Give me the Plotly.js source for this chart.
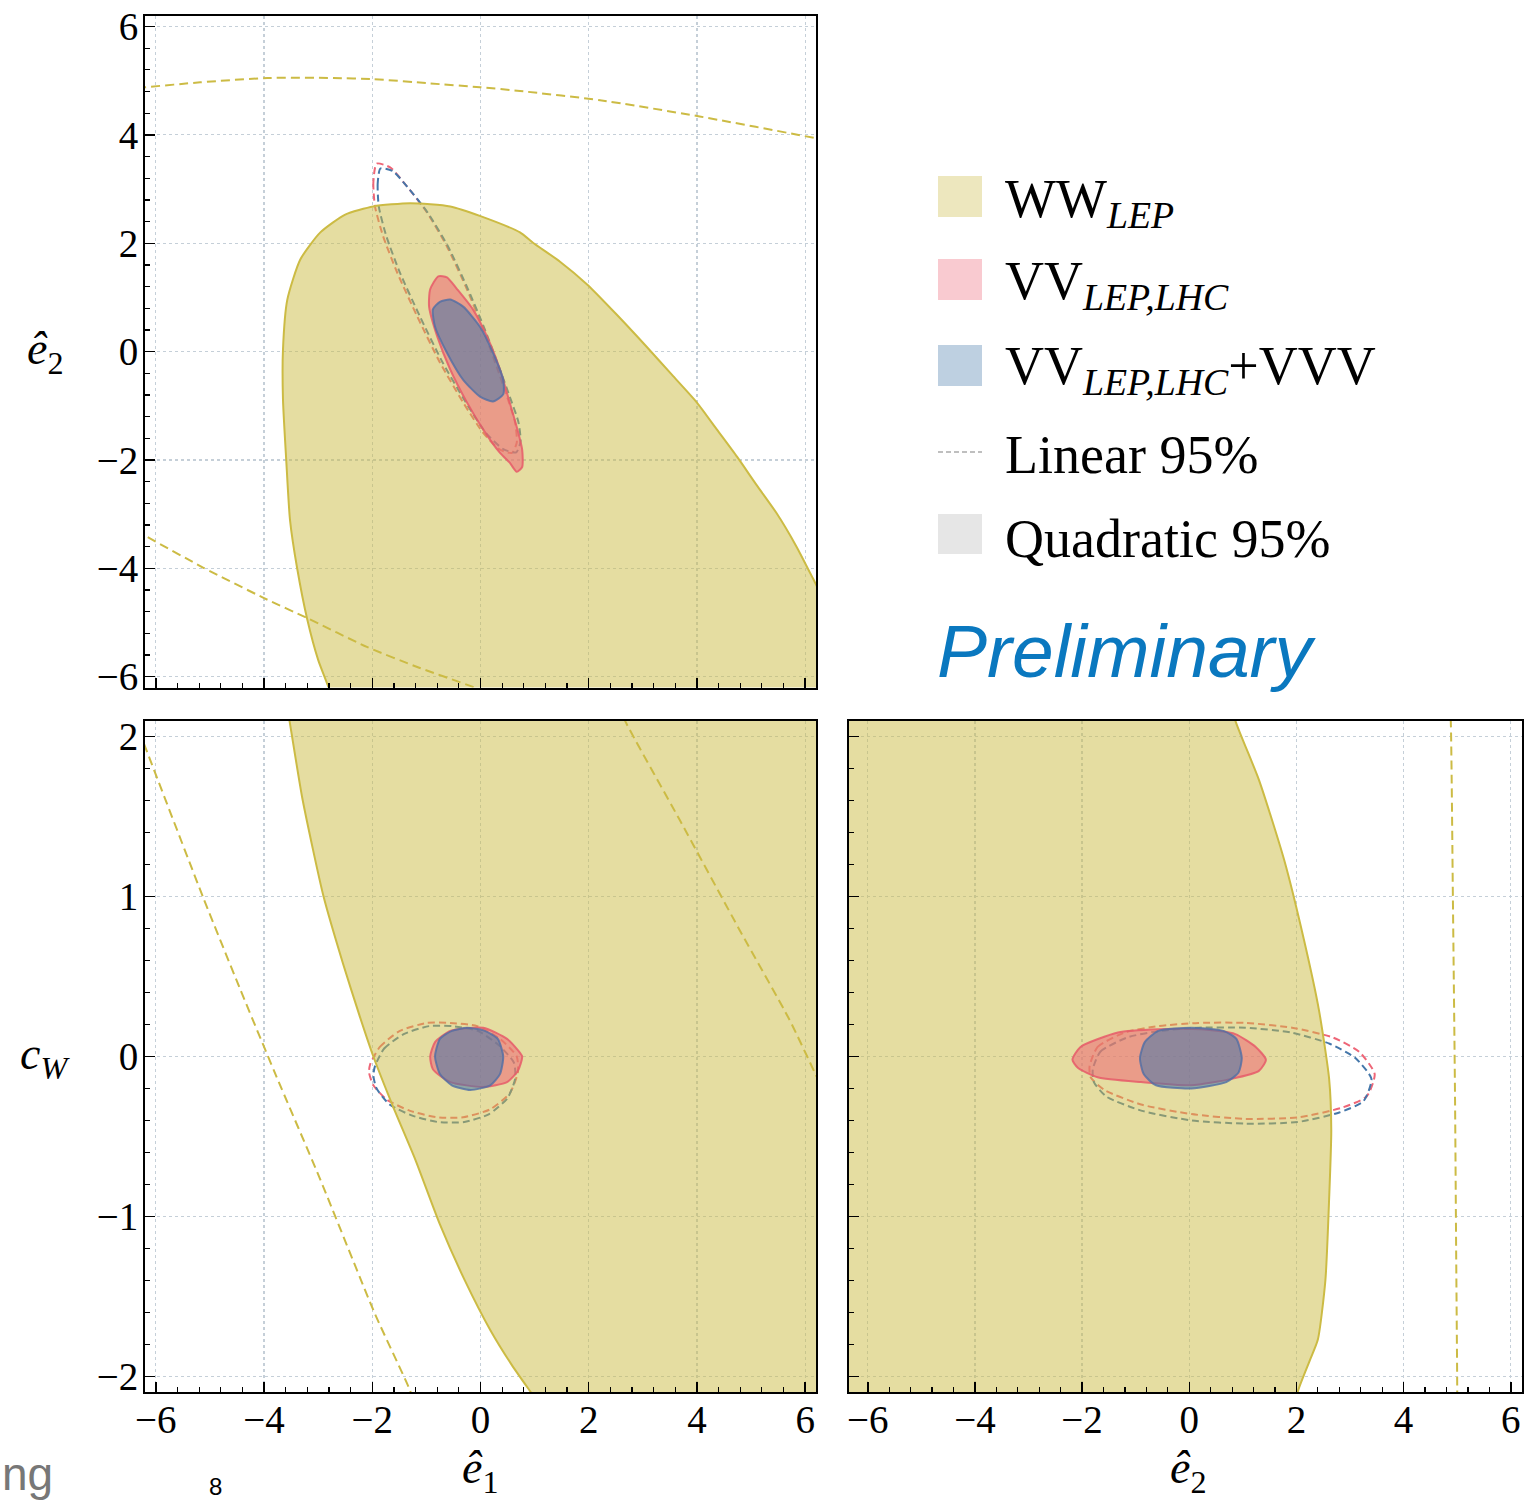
<!DOCTYPE html>
<html>
<head>
<meta charset="utf-8">
<script src="https://cdn.plot.ly/plotly-3.0.1.min.js"></script>
<style>html,body{margin:0;padding:0;background:#fff;}#plot{width:1534px;height:1502px;}</style>
</head>
<body>
<div id="plot"></div>
<script>
// ---------------- DATA ----------------
// Panel A: x = e1, y = e2
const A_WW_quad_x = [-2.55,-2.80,-3.00,-3.20,-3.39,-3.52,-3.59,-3.65,-3.65,-3.57,-3.33,-2.96,-2.50,-1.98,-1.30,-0.56,0.00,0.73,0.97,1.47,1.97,2.52,3.07,3.54,4.00,4.37,4.74,5.10,5.47,5.84,6.14,6.45,6.73,7.00,7.00,-2.55];
const A_WW_quad_y = [-7.00,-6.22,-5.69,-4.95,-3.99,-3.11,-2.00,-0.89,0.04,0.96,1.70,2.20,2.53,2.68,2.74,2.68,2.50,2.20,2.01,1.66,1.24,0.68,0.09,-0.43,-0.94,-1.44,-1.94,-2.46,-2.98,-3.60,-4.18,-4.80,-5.32,-5.85,-7.00,-7.00];
const A_WW_lin_x = [-6.60,-6.19,-5.18,-3.94,-2.72,-1.98,-0.93,-0.01,0.73,2.21,4.05,6.19,6.60, null, -6.60,-6.16,-5.12,-4.00,-3.20,-2.10,-1.12,-0.19,0.36,0.60];
const A_WW_lin_y = [4.84,4.88,4.97,5.05,5.05,5.03,4.95,4.88,4.81,4.64,4.34,3.94,3.86, null, -3.18,-3.42,-3.99,-4.55,-4.92,-5.45,-5.84,-6.17,-6.38,-6.50];
const A_VV_lin_x = [-1.92,-1.98,-1.95,-1.80,-1.54,-1.17,-0.75,-0.32,0.05,0.36,0.58,0.67,0.64,0.49,0.30,0.05,-0.25,-0.62,-0.99,-1.36,-1.67,-1.92];
const A_VV_lin_y = [3.47,3.12,2.68,2.13,1.46,0.65,-0.20,-0.94,-1.50,-1.81,-1.87,-1.68,-1.31,-0.83,-0.28,0.41,1.15,1.94,2.57,3.05,3.40,3.47];
const A_VVV_lin_x = [-1.85,-1.90,-1.88,-1.74,-1.49,-1.12,-0.70,-0.27,0.10,0.42,0.66,0.74,0.70,0.54,0.34,0.08,-0.23,-0.60,-0.98,-1.36,-1.62,-1.85];
const A_VVV_lin_y = [3.38,3.10,2.68,2.13,1.46,0.65,-0.20,-0.94,-1.50,-1.80,-1.86,-1.66,-1.30,-0.83,-0.28,0.41,1.15,1.94,2.57,3.05,3.33,3.38];
const A_VV_quad_x = [-0.78,-0.93,-0.95,-0.80,-0.56,-0.25,0.05,0.36,0.54,0.67,0.77,0.77,0.67,0.54,0.36,0.12,-0.14,-0.43,-0.62,-0.78];
const A_VV_quad_y = [1.39,1.15,0.83,0.28,-0.33,-0.94,-1.44,-1.87,-2.05,-2.22,-2.13,-1.81,-1.39,-0.94,-0.33,0.28,0.78,1.15,1.37,1.39];
const A_VVV_quad_x = [-0.75,-0.88,-0.84,-0.62,-0.32,-0.01,0.23,0.42,0.42,0.23,-0.01,-0.32,-0.56,-0.75];
const A_VVV_quad_y = [0.92,0.78,0.46,-0.02,-0.52,-0.83,-0.92,-0.79,-0.52,-0.02,0.46,0.83,0.96,0.92];

// Panel B: x = e1, y = cW
const B_WW_quad_x = [-3.60,-3.57,-3.53,-3.29,-2.90,-2.54,-2.24,-1.98,-1.62,-1.21,-0.75,-0.29,0.18,0.58,0.91,1.10,1.25,7.00,7.00,-3.60];
const B_WW_quad_y = [2.30,2.17,2.10,1.61,1.00,0.58,0.26,0.00,-0.31,-0.64,-1.05,-1.40,-1.71,-1.93,-2.09,-2.18,-2.30,-2.30,2.30,2.30];
const B_WW_lin_x = [-6.50,-6.19,-5.12,-4.44,-3.79,-2.96,-1.95,-1.30,-1.20, null, 2.55,2.67,3.68,4.79,5.71,6.19,6.50];
const B_WW_lin_y = [2.20,1.93,0.99,0.42,-0.11,-0.77,-1.61,-2.09,-2.20, null, 2.20,2.10,1.48,0.79,0.23,-0.11,-0.33];
const B_VV_lin_x = [-2.04,-1.86,-1.49,-0.99,-0.56,-0.06,0.36,0.67,0.69,0.54,0.18,-0.32,-0.80,-1.30,-1.73,-1.98,-2.06,-2.04];
const B_VV_lin_y = [-0.05,0.06,0.16,0.21,0.21,0.19,0.11,0.00,-0.10,-0.23,-0.33,-0.38,-0.38,-0.34,-0.27,-0.18,-0.10,-0.05];
const B_VVV_lin_x = [-1.95,-1.78,-1.42,-0.95,-0.52,-0.05,0.34,0.62,0.64,0.50,0.16,-0.30,-0.78,-1.26,-1.68,-1.92,-1.98,-1.95];
const B_VVV_lin_y = [-0.06,0.05,0.14,0.19,0.19,0.16,0.07,-0.04,-0.14,-0.26,-0.36,-0.41,-0.41,-0.37,-0.30,-0.20,-0.12,-0.06];
const B_VV_quad_x = [-0.93,-0.84,-0.56,0.05,0.49,0.69,0.77,0.69,0.49,0.05,-0.56,-0.88,-0.93];
const B_VV_quad_y = [0.00,0.09,0.16,0.18,0.11,0.04,0.00,-0.09,-0.16,-0.19,-0.16,-0.08,0.00];
const B_VVV_quad_x = [-0.84,-0.75,-0.53,-0.25,0.08,0.32,0.42,0.36,0.18,-0.19,-0.53,-0.75,-0.84];
const B_VVV_quad_y = [0.00,0.11,0.16,0.18,0.16,0.11,0.00,-0.11,-0.18,-0.21,-0.18,-0.11,0.00];

// Panel C: x = e2, y = cW
const C_WW_quad_x = [-7.00,0.72,0.86,1.30,1.77,2.14,2.42,2.61,2.65,2.61,2.54,2.40,2.25,2.03,1.90,-7.00,-7.00];
const C_WW_quad_y = [2.30,2.30,2.10,1.73,1.23,0.73,0.29,-0.14,-0.46,-0.89,-1.40,-1.77,-1.90,-2.09,-2.30,-2.30,2.30];
const C_WW_lin_x = [4.86,4.88,4.92,4.96,4.98,5.00,5.00];
const C_WW_lin_y = [2.20,2.10,0.98,-0.27,-1.20,-2.05,-2.20];
const C_VV_lin_x = [-1.86,-1.71,-1.20,-0.58,0.17,1.05,1.92,2.67,3.17,3.46,3.31,2.85,2.05,1.05,0.04,-0.90,-1.58,-1.84,-1.86];
const C_VV_lin_y = [-0.06,0.06,0.15,0.19,0.21,0.21,0.18,0.12,0.03,-0.11,-0.25,-0.32,-0.38,-0.39,-0.36,-0.30,-0.21,-0.13,-0.06];
const C_VVV_lin_x = [-1.80,-1.66,-1.15,-0.55,0.17,1.05,1.90,2.62,3.10,3.40,3.25,2.80,2.02,1.05,0.05,-0.88,-1.55,-1.78,-1.80];
const C_VVV_lin_y = [-0.08,0.03,0.12,0.16,0.18,0.18,0.15,0.08,-0.01,-0.14,-0.28,-0.35,-0.41,-0.42,-0.40,-0.34,-0.25,-0.16,-0.08];
const C_VV_quad_x = [-2.18,-2.03,-1.33,-0.58,0.23,0.86,1.24,1.43,1.30,0.79,0.04,-0.90,-1.71,-2.08,-2.18];
const C_VV_quad_y = [-0.02,0.06,0.15,0.17,0.17,0.14,0.06,-0.02,-0.09,-0.14,-0.18,-0.16,-0.13,-0.07,-0.02];
const C_VVV_quad_x = [-0.92,-0.83,-0.58,0.04,0.64,0.88,0.98,0.92,0.69,0.04,-0.62,-0.85,-0.92];
const C_VVV_quad_y = [-0.01,0.09,0.16,0.18,0.16,0.11,-0.01,-0.10,-0.16,-0.20,-0.18,-0.11,-0.01];

// Tick values and labels
const e_ticks = [-6,-4,-2,0,2,4,6];
const cw_ticks = [-2,-1,0,1,2];
const legend_labels = ["WW<sub><i>LEP</i></sub>", "VV<sub><i>LEP,LHC</i></sub>", "VV<sub><i>LEP,LHC</i></sub>+VVV", "Linear 95%", "Quadratic 95%"];

// ---------------- STYLE ----------------
const YEL = '#CCBB44', RED = '#EE6677', BLU = '#4477AA';
const W = 1534, H = 1502;
const px = v => v / W, py = v => 1 - v / H;

function dashLine(x, y, color, ax, dash) {
  return {type:'scatter', mode:'lines', x:x, y:y, xaxis:ax[0], yaxis:ax[1], showlegend:false, hoverinfo:'skip',
    line:{color:color, width:2, dash:dash || '7px,4px', shape:'spline', smoothing:0.6}};
}
function fillShape(x, y, fillcolor, linecolor, ax) {
  return {type:'scatter', mode:'lines', x:x, y:y, xaxis:ax[0], yaxis:ax[1], fill:'toself', fillcolor:fillcolor,
    showlegend:false, hoverinfo:'skip',
    line:{color:linecolor, width:2, shape:'spline', smoothing:0.6}};
}

function panel(ax, d) {
  return [
    dashLine(d.VVlx, d.VVly, RED, ax),
    dashLine(d.VVVlx, d.VVVly, BLU, ax),
    fillShape(d.WWx, d.WWy, 'rgba(204,187,68,0.5)', YEL, ax),
    dashLine(d.WWlx, d.WWly, YEL, ax, '9px,5px'),
    fillShape(d.VVx, d.VVy, 'rgba(238,102,119,0.55)', 'rgba(230,90,105,0.85)', ax),
    fillShape(d.VVVx, d.VVVy, 'rgba(68,119,170,0.55)', 'rgba(80,110,165,0.8)', ax)
  ];
}

const traces = [].concat(
  panel(['x','y'], {VVlx:A_VV_lin_x, VVly:A_VV_lin_y, VVVlx:A_VVV_lin_x, VVVly:A_VVV_lin_y, WWx:A_WW_quad_x, WWy:A_WW_quad_y,
    WWlx:A_WW_lin_x, WWly:A_WW_lin_y, VVx:A_VV_quad_x, VVy:A_VV_quad_y, VVVx:A_VVV_quad_x, VVVy:A_VVV_quad_y}),
  panel(['x2','y2'], {VVlx:B_VV_lin_x, VVly:B_VV_lin_y, VVVlx:B_VVV_lin_x, VVVly:B_VVV_lin_y, WWx:B_WW_quad_x, WWy:B_WW_quad_y,
    WWlx:B_WW_lin_x, WWly:B_WW_lin_y, VVx:B_VV_quad_x, VVy:B_VV_quad_y, VVVx:B_VVV_quad_x, VVVy:B_VVV_quad_y}),
  panel(['x3','y3'], {VVlx:C_VV_lin_x, VVly:C_VV_lin_y, VVVlx:C_VVV_lin_x, VVVly:C_VVV_lin_y, WWx:C_WW_quad_x, WWy:C_WW_quad_y,
    WWlx:C_WW_lin_x, WWly:C_WW_lin_y, VVx:C_VV_quad_x, VVy:C_VV_quad_y, VVVx:C_VVV_quad_x, VVVy:C_VVV_quad_y})
);

const SERIF = 'Liberation Serif, DejaVu Serif, serif';
function axis(extra) {
  return Object.assign({
    showline:true, linecolor:'#000', linewidth:2, mirror:true,
    ticks:'inside', ticklen:10, tickwidth:1.5, tickcolor:'#000',
    showgrid:true, gridcolor:'#c5cfd8', griddash:'dot', gridwidth:1.2,
    zeroline:false, fixedrange:true,
    tickfont:{family:SERIF, size:39, color:'#000'}
  }, extra);
}
const eMinor = {ticks:'inside', ticklen:5, tickwidth:1.2, tickcolor:'#000', dtick:0.4, tick0:0, showgrid:false};
const cMinor = {ticks:'inside', ticklen:5, tickwidth:1.2, tickcolor:'#000', dtick:0.2, tick0:0, showgrid:false};

const xL = [px(145), px(816)], xR = [px(849), px(1521.5)];
const yT = [py(687.5), py(15.7)], yB = [py(1392), py(721)];

const labFont = {family:SERIF, size:54, color:'#000'};
const layout = {
  width:W, height:H, margin:{l:0, r:0, t:0, b:0},
  paper_bgcolor:'#fff', plot_bgcolor:'#fff', showlegend:false,
  font:{family:SERIF, color:'#000'},
  xaxis: axis({domain:xL, anchor:'y', range:[-6.2,6.2], tickvals:e_ticks, showticklabels:false, minor:eMinor}),
  yaxis: axis({domain:yT, anchor:'x', range:[-6.2,6.2], tickvals:e_ticks, minor:eMinor, ticklabelstandoff:-3}),
  xaxis2: axis({domain:xL, anchor:'y2', range:[-6.2,6.2], tickvals:e_ticks, minor:eMinor, ticklabelstandoff:-8}),
  yaxis2: axis({domain:yB, anchor:'x2', range:[-2.098,2.098], tickvals:cw_ticks, minor:cMinor, ticklabelstandoff:-3}),
  xaxis3: axis({domain:xR, anchor:'y3', range:[-6.35,6.2], tickvals:e_ticks, minor:eMinor, ticklabelstandoff:-8}),
  yaxis3: axis({domain:yB, anchor:'x3', range:[-2.098,2.098], tickvals:cw_ticks, showticklabels:false, minor:cMinor}),
  shapes:[
    {type:'rect', xref:'paper', yref:'paper', x0:px(938), x1:px(982), y0:py(217), y1:py(176), fillcolor:'rgba(204,187,68,0.35)', line:{width:0}},
    {type:'rect', xref:'paper', yref:'paper', x0:px(938), x1:px(982), y0:py(300), y1:py(259), fillcolor:'rgba(238,102,119,0.35)', line:{width:0}},
    {type:'rect', xref:'paper', yref:'paper', x0:px(938), x1:px(982), y0:py(386), y1:py(345), fillcolor:'rgba(68,119,170,0.35)', line:{width:0}},
    {type:'line', xref:'paper', yref:'paper', x0:px(938), x1:px(982), y0:py(452), y1:py(452), line:{color:'#aaaaaa', width:1.5, dash:'5px,3px'}},
    {type:'rect', xref:'paper', yref:'paper', x0:px(938), x1:px(982), y0:py(554), y1:py(514), fillcolor:'#e6e6e6', line:{width:0}}
  ],
  annotations:[
    {xref:'paper', yref:'paper', x:px(1003), y:py(202), xanchor:'left', yanchor:'middle', text:legend_labels[0], showarrow:false, font:labFont},
    {xref:'paper', yref:'paper', x:px(1003), y:py(284), xanchor:'left', yanchor:'middle', text:legend_labels[1], showarrow:false, font:labFont},
    {xref:'paper', yref:'paper', x:px(1003), y:py(370), xanchor:'left', yanchor:'middle', text:legend_labels[2], showarrow:false, font:labFont},
    {xref:'paper', yref:'paper', x:px(1003), y:py(455), xanchor:'left', yanchor:'middle', text:legend_labels[3], showarrow:false, font:labFont},
    {xref:'paper', yref:'paper', x:px(1003), y:py(539), xanchor:'left', yanchor:'middle', text:legend_labels[4], showarrow:false, font:labFont},
    {xref:'paper', yref:'paper', x:px(935), y:py(651), xanchor:'left', yanchor:'middle', text:'<i>Preliminary</i>', showarrow:false, font:{family:'Liberation Sans, Arial, sans-serif', size:75, color:'#0a78bf'}},
    {xref:'paper', yref:'paper', x:px(45), y:py(352), xanchor:'center', yanchor:'middle', text:'<i>ê</i><sub>2</sub>', showarrow:false, font:{family:SERIF, size:46, color:'#000'}},
    {xref:'paper', yref:'paper', x:px(45), y:py(1057), xanchor:'center', yanchor:'middle', text:'<i>c</i><sub><i>W</i></sub>', showarrow:false, font:{family:SERIF, size:46, color:'#000'}},
    {xref:'paper', yref:'paper', x:px(480), y:py(1471), xanchor:'center', yanchor:'middle', text:'<i>ê</i><sub>1</sub>', showarrow:false, font:{family:SERIF, size:46, color:'#000'}},
    {xref:'paper', yref:'paper', x:px(1188), y:py(1471), xanchor:'center', yanchor:'middle', text:'<i>ê</i><sub>2</sub>', showarrow:false, font:{family:SERIF, size:46, color:'#000'}},
    {xref:'paper', yref:'paper', x:0, y:0, xanchor:'left', yanchor:'bottom', text:'ng', showarrow:false, font:{family:'Liberation Sans, Arial, sans-serif', size:46, color:'#777'}},
    {xref:'paper', yref:'paper', x:px(215), y:0, xanchor:'center', yanchor:'bottom', text:'8', showarrow:false, font:{family:'Liberation Sans, Arial, sans-serif', size:24, color:'#000'}}
  ]
};

Plotly.newPlot('plot', traces, layout, {staticPlot:true, displayModeBar:false});
</script>
</body>
</html>
